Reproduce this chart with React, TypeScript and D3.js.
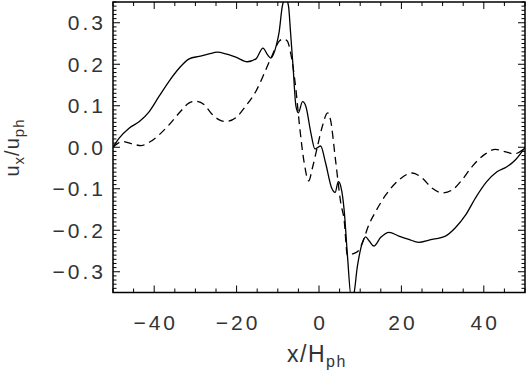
import React, { useEffect, useRef } from "react";
import * as d3 from "d3";

// solid curve: x/H_ph, u_x/u_ph
const solidX = [
  -50, -48.5, -46.1, -43.6, -41.2, -38.8, -36.4, -33.9, -31.5, -29.1, -26.7, -24.7, -22.6, -20.2,
  -17.4, -15.3, -13.6, -12.5, -11.7, -10.3, -9.7, -8.9, -8.1, -7.4, -6.9, -6.3, -5.6, -5.0, -4.0,
  -3.2, -2.0, -1.0, 0.4, 1.6, 3.1, 3.9, 4.7, 5.3, 6.1, 6.9, 7.8, 8.4, 9.3, 10.5, 11.3, 12.2, 13.3,
  15.0, 17.0, 19.4, 21.8, 24.2, 26.9, 30.7, 33.1, 35.6, 38.0, 40.7, 43.2, 45.6, 47.7, 50,
];
const solidY = [
  0.0, 0.022, 0.046, 0.062, 0.086, 0.123, 0.159, 0.191, 0.213, 0.219, 0.225, 0.229, 0.225, 0.217,
  0.206, 0.213, 0.239, 0.223, 0.215, 0.248, 0.276, 0.34, 0.36, 0.34, 0.276, 0.195, 0.099, 0.083,
  0.11, 0.099, 0.036, -0.004, 0.003, -0.038, -0.099, -0.109, -0.083, -0.095, -0.151, -0.26, -0.36,
  -0.355, -0.288, -0.231, -0.216, -0.226, -0.238, -0.217, -0.205, -0.214, -0.222, -0.229, -0.223,
  -0.214, -0.194, -0.163, -0.122, -0.083, -0.059, -0.047, -0.03, 0.0,
];

// dashed curve
const dashedX = [
  -50, -47.7, -45.3, -43.2, -41.2, -38.8, -36.4, -33.9, -31.5, -29.9, -27.9, -25.9, -24.2, -22.6,
  -20.2, -17.8, -15.3, -12.9, -11.3, -9.7, -8.7, -7.7, -6.9, -5.6, -4.8, -3.6, -2.5, -1.6, -0.4,
  0.8, 2.1, 2.8, 4.0, 5.3, 6.1, 6.9, 8.1, 9.3, 10.5, 12.1, 13.7, 16.2, 19.4, 22.6, 25.0, 27.5, 29.9,
  32.3, 34.7, 37.2, 40.4, 42.8, 45.3, 47.3, 50,
];
const dashedY = [
  0.0, 0.014, 0.008, 0.004, 0.012, 0.03, 0.054, 0.083, 0.107, 0.111, 0.103, 0.079, 0.066, 0.062,
  0.071, 0.099, 0.135, 0.187, 0.223, 0.255, 0.261, 0.256, 0.228, 0.139, 0.059, -0.037, -0.081,
  -0.05, 0.001, 0.05, 0.083, 0.066, -0.03, -0.135, -0.175, -0.26, -0.257, -0.252, -0.231, -0.187,
  -0.156, -0.115, -0.079, -0.062, -0.074, -0.099, -0.11, -0.103, -0.079, -0.046, -0.016, -0.005,
  -0.011, -0.016, -0.002,
];

const xMajor = [-40, -20, 0, 20, 40];
const xMinor = d3.range(-50, 51, 5);
const yMajor = [-0.3, -0.2, -0.1, 0.0, 0.1, 0.2, 0.3];
const yMinor = d3.range(-35, 36, 1).map((v) => v / 100);

const W = 528;
const H = 371;
const FONT = "Liberation Sans, Arial, sans-serif";
const TEXT = "#333";

export default function App() {
  const ref = useRef<SVGSVGElement | null>(null);

  useEffect(() => {
    const svg = d3.select(ref.current);
    svg.selectAll("*").remove();

    const left = 113,
      right = 525,
      top = 2,
      bottom = 292.5;

    const x = d3.scaleLinear().domain([-50, 50]).range([left, right]);
    const y = d3.scaleLinear().domain([-0.35, 0.35]).range([bottom, top]);

    // clip so the spikes get cut at the frame
    svg
      .append("clipPath")
      .attr("id", "plot-clip")
      .append("rect")
      .attr("x", left)
      .attr("y", top)
      .attr("width", right - left)
      .attr("height", bottom - top);

    const line = d3
      .line<[number, number]>()
      .x((d) => x(d[0]))
      .y((d) => y(d[1]))
      .curve(d3.curveMonotoneX);

    const solid = solidX.map((v, i) => [v, solidY[i]] as [number, number]);
    const dashed = dashedX.map((v, i) => [v, dashedY[i]] as [number, number]);

    const g = svg.append("g").attr("clip-path", "url(#plot-clip)");
    g.append("path")
      .attr("d", line(dashed))
      .attr("fill", "none")
      .attr("stroke", "#000")
      .attr("stroke-width", 1.3)
      .attr("stroke-dasharray", "8,5");
    g.append("path")
      .attr("d", line(solid))
      .attr("fill", "none")
      .attr("stroke", "#000")
      .attr("stroke-width", 1.3);

    // frame
    svg
      .append("rect")
      .attr("x", left)
      .attr("y", top)
      .attr("width", right - left)
      .attr("height", bottom - top)
      .attr("fill", "none")
      .attr("stroke", "#000")
      .attr("stroke-width", 1.5);

    const ticks = svg.append("g").attr("stroke", "#000").attr("stroke-width", 1);

    // x ticks, bottom and top, pointing inward
    xMinor.forEach((v) => {
      const len = xMajor.includes(v) ? 7 : 4;
      ticks.append("line").attr("x1", x(v)).attr("x2", x(v)).attr("y1", bottom).attr("y2", bottom - len);
      ticks.append("line").attr("x1", x(v)).attr("x2", x(v)).attr("y1", top).attr("y2", top + len);
    });

    // y ticks, left and right
    yMinor.forEach((v) => {
      const major = yMajor.some((m) => Math.abs(m - v) < 1e-6);
      const len = major ? 7 : 3.5;
      ticks.append("line").attr("y1", y(v)).attr("y2", y(v)).attr("x1", left).attr("x2", left + len);
      ticks.append("line").attr("y1", y(v)).attr("y2", y(v)).attr("x1", right).attr("x2", right - len);
    });

    const fmtY = (v: number) => (v < 0 ? "\u2212" : "") + Math.abs(v).toFixed(1);
    const fmtX = (v: number) => (v < 0 ? "\u2212" : "") + Math.abs(v);

    // y tick labels
    svg
      .append("g")
      .selectAll("text")
      .data(yMajor)
      .enter()
      .append("text")
      .attr("x", 106)
      .attr("y", (d) => y(d) + 7.5)
      .attr("text-anchor", "end")
      .attr("font-family", FONT)
      .attr("font-size", 21)
      .attr("letter-spacing", 3)
      .attr("fill", TEXT)
      .text((d) => fmtY(d));

    // x tick labels
    svg
      .append("g")
      .selectAll("text")
      .data(xMajor)
      .enter()
      .append("text")
      .attr("x", (d) => x(d) + 1.5)
      .attr("y", 330)
      .attr("text-anchor", "middle")
      .attr("font-family", FONT)
      .attr("font-size", 21)
      .attr("letter-spacing", 3)
      .attr("fill", TEXT)
      .text((d) => fmtX(d));

    // x axis title
    const xt = svg
      .append("text")
      .attr("x", 317)
      .attr("y", 361.5)
      .attr("text-anchor", "middle")
      .attr("font-family", FONT)
      .attr("font-size", 23)
      .attr("letter-spacing", 1.5)
      .attr("fill", TEXT);
    xt.append("tspan").text("x/H");
    xt.append("tspan").attr("font-size", 16).attr("dy", 5).text("ph");

    // y axis title
    const yt = svg
      .append("text")
      .attr("transform", "translate(19,147.5) rotate(-90)")
      .attr("text-anchor", "middle")
      .attr("font-family", FONT)
      .attr("font-size", 20)
      .attr("letter-spacing", 1)
      .attr("fill", TEXT);
    yt.append("tspan").text("u");
    yt.append("tspan").attr("font-size", 15).attr("dy", 5).text("x");
    yt.append("tspan").attr("dy", -5).text("/u");
    yt.append("tspan").attr("font-size", 15).attr("dy", 5).text("ph");
  }, []);

  return (
    <svg
      ref={ref}
      width={W}
      height={H}
      style={{ position: "absolute", left: 0, top: 0, background: "#fff" }}
    />
  );
}
